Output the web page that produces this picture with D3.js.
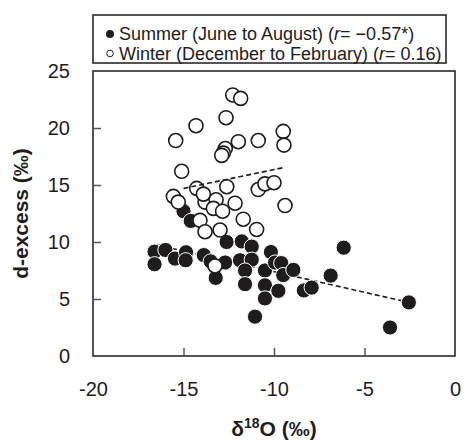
<!DOCTYPE html>
<html>
<head>
<meta charset="utf-8">
<script src="https://cdn.jsdelivr.net/npm/d3@7"></script>
<style>
  body { margin: 0; background: #fff; }
  svg { display: block; font-family: "Liberation Sans", Arial, sans-serif; }
</style>
</head>
<body>
<div id="plot"></div>
<script>
// Summer (June to August) samples
const summerX = [-15.0, -14.6, -16.6, -16.0, -16.6, -15.47, -14.86, -14.88, -13.88, -13.5,
    -12.62, -11.78, -11.23, -10.17, -12.7, -11.88, -11.23, -13.22, -11.6, -10.5,
    -9.94, -9.6, -9.49, -8.93, -11.6, -10.5, -9.76, -10.5, -11.05, -8.35,
    -7.92, -6.87, -6.15, -2.55, -3.59];
const summerY = [12.7, 11.85, 9.15, 9.3, 8.05, 8.55, 9.1, 8.4, 8.85, 8.3,
    10.0, 10.05, 9.6, 9.12, 8.2, 8.4, 8.45, 6.85, 7.5, 7.5,
    8.2, 8.15, 7.1, 7.55, 6.3, 6.2, 5.72, 5.05, 3.45, 5.75,
    6.0, 7.05, 9.5, 4.7, 2.5];

// Winter (December to February) samples
const winterX = [-12.28, -11.84, -12.65, -14.31, -15.43, -11.97, -10.87, -9.49, -9.45, -12.69,
    -12.8, -12.89, -15.1, -14.27, -12.61, -10.87, -10.5, -10.0, -15.56, -15.29,
    -13.81, -13.2, -13.35, -12.15, -12.84, -9.39, -14.09, -11.7, -13.81, -12.98,
    -10.96, -13.26, -13.9];
const winterY = [22.9, 22.6, 20.9, 20.2, 18.9, 18.8, 18.9, 19.7, 18.5, 18.2,
    17.8, 17.6, 16.2, 14.7, 14.85, 14.6, 15.1, 15.2, 14.0, 13.5,
    13.5, 13.7, 12.95, 13.4, 12.7, 13.2, 11.9, 12.0, 10.9, 11.05,
    11.1, 7.9, 14.2];

// Regression lines (end points)
const summerFitX = [-16.5, -2.6];
const summerFitY = [9.75, 4.72];
const winterFitX = [-15.0, -9.4];
const winterFitY = [14.7, 16.55];

const xTicks = [-20, -15, -10, -5, 0];
const yTicks = [0, 5, 10, 15, 20, 25];

const legendLabels = [
    {season: "Summer (June to August) (", r: "r", tail: "= \u22120.57*)", filled: true},
    {season: "Winter (December to February) (", r: "r", tail: "= 0.16)", filled: false}
];

const width = 464;
const height = 442;
const marginTop = 71;
const marginRight = 9;
const marginBottom = 86;
const marginLeft = 93;
const ink = "#1e1c1d";

const svg = d3.select("#plot")
    .append("svg")
    .attr("width", width)
    .attr("height", height)
    .attr("viewBox", [0, 0, width, height]);

// Scales
const x = d3.scaleLinear()
    .domain([-20, 0])
    .range([marginLeft, width - marginRight]);

const y = d3.scaleLinear()
    .domain([0, 25])
    .range([height - marginBottom, marginTop]);

// Frame
svg.append("rect")
    .attr("x", x(-20))
    .attr("y", y(25))
    .attr("width", x(0) - x(-20))
    .attr("height", y(0) - y(25))
    .attr("fill", "none")
    .attr("stroke", ink)
    .attr("stroke-width", 1.5);

// Axes (inward ticks)
const xAxis = svg.append("g")
    .attr("transform", `translate(0,${y(0)})`)
    .call(d3.axisBottom(x).tickValues(xTicks).tickSize(-8).tickPadding(26).tickFormat(d3.format("d")))
    .call(g => g.select(".domain").remove());

xAxis.selectAll("line")
    .attr("stroke", "#555")
    .attr("stroke-width", 1.5)
    .filter(d => d === -20 || d === 0).remove();

xAxis.selectAll("text")
    .attr("fill", ink)
    .style("font-size", "20px")
    .text(d => d < 0 ? "-" + Math.abs(d) : d);

const yAxis = svg.append("g")
    .attr("transform", `translate(${x(-20)},0)`)
    .call(d3.axisLeft(y).tickValues(yTicks).tickSize(-8).tickPadding(23))
    .call(g => g.select(".domain").remove());

yAxis.selectAll("line")
    .attr("stroke", "#555")
    .attr("stroke-width", 1.5)
    .filter(d => d === 0 || d === 25).remove();

yAxis.selectAll("text")
    .attr("fill", ink)
    .style("font-size", "20px");

// Axis titles
const xTitle = svg.append("text")
    .attr("x", x(-10))
    .attr("y", 436)
    .attr("text-anchor", "middle")
    .attr("fill", ink)
    .style("font-size", "21px")
    .style("font-weight", "bold");
xTitle.append("tspan").text("\u03b4");
xTitle.append("tspan").attr("dy", -8).style("font-size", "14px").text("18");
xTitle.append("tspan").attr("dy", 8).text("O (\u2030)");

svg.append("text")
    .attr("transform", `translate(28,${y(12.5)}) rotate(-90)`)
    .attr("text-anchor", "middle")
    .attr("fill", ink)
    .style("font-size", "21px")
    .style("font-weight", "bold")
    .text("d-excess (\u2030)");

const line = d3.line()
    .x(d => x(d[0]))
    .y(d => y(d[1]));

// Summer fit sits behind the points
svg.append("path")
    .datum(d3.zip(summerFitX, summerFitY))
    .attr("fill", "none")
    .attr("stroke", ink)
    .attr("stroke-width", 1.6)
    .attr("stroke-dasharray", "5,3")
    .attr("d", line);

// Summer points
svg.append("g")
    .selectAll("circle")
    .data(d3.zip(summerX, summerY))
    .join("circle")
    .attr("cx", d => x(d[0]))
    .attr("cy", d => y(d[1]))
    .attr("r", 7.6)
    .attr("fill", ink)
    .attr("stroke", "#fff")
    .attr("stroke-width", 1);

// Winter points
svg.append("g")
    .selectAll("circle")
    .data(d3.zip(winterX, winterY))
    .join("circle")
    .attr("cx", d => x(d[0]))
    .attr("cy", d => y(d[1]))
    .attr("r", 7)
    .attr("fill", "#fff")
    .attr("stroke", ink)
    .attr("stroke-width", 1.6);

svg.append("path")
    .datum(d3.zip(winterFitX, winterFitY))
    .attr("fill", "none")
    .attr("stroke", ink)
    .attr("stroke-width", 1.6)
    .attr("stroke-dasharray", "5,3")
    .attr("d", line);

// Legend
const legend = svg.append("g");

legend.append("rect")
    .attr("x", 93)
    .attr("y", 15)
    .attr("width", 353)
    .attr("height", 48)
    .attr("fill", "#fff")
    .attr("stroke", ink)
    .attr("stroke-width", 1.5);

const item = legend.selectAll("g")
    .data(legendLabels)
    .join("g")
    .attr("transform", (d, i) => `translate(110,${34 + i * 19.5})`);

item.append("circle")
    .attr("r", d => d.filled ? 4 : 3.3)
    .attr("fill", d => d.filled ? ink : "#fff")
    .attr("stroke", ink)
    .attr("stroke-width", d => d.filled ? 0 : 1);

const label = item.append("text")
    .attr("x", 9)
    .attr("y", 6)
    .attr("fill", ink)
    .style("font-size", "18px");
label.append("tspan").text(d => d.season);
label.append("tspan").style("font-style", "italic").text(d => d.r);
label.append("tspan").text(d => d.tail);
</script>
</body>
</html>
